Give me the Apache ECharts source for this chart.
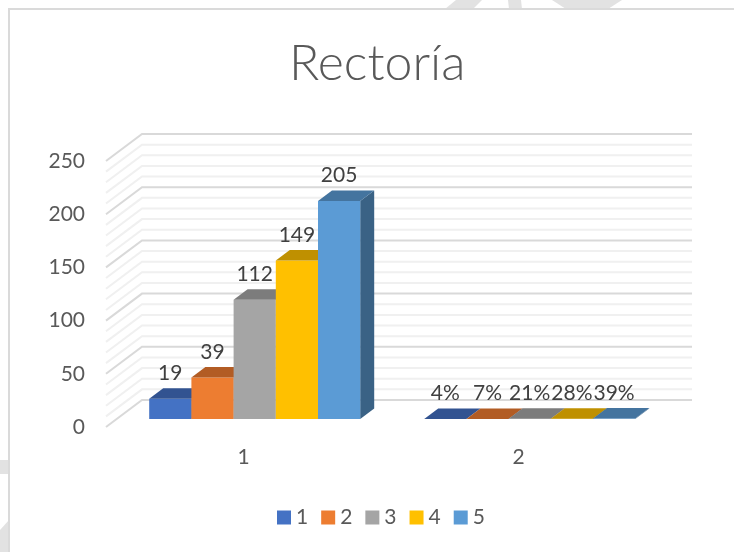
<!DOCTYPE html>
<html><head><meta charset="utf-8">
<style>html,body{margin:0;padding:0;background:#fff}#c{width:734px;height:552px}</style>
<script src="https://cdn.jsdelivr.net/npm/echarts@6/dist/echarts.min.js"></script>
</head><body><div id="c"></div>
<script>
const categories = ['1', '2'];
const seriesNames = ['1', '2', '3', '4', '5'];
const values1 = [19, 0.04];
const values2 = [39, 0.07];
const values3 = [112, 0.21];
const values4 = [149, 0.28];
const values5 = [205, 0.39];
const labels1 = ['19', '4%'];
const labels2 = ['39', '7%'];
const labels3 = ['112', '21%'];
const labels4 = ['149', '28%'];
const labels5 = ['205', '39%'];
const faceColors = ['#4472C4', '#ED7D31', '#A5A5A5', '#FFC000', '#5B9BD5'];
const topColors = ['#325391', '#B25C24', '#7C7C7C', '#BF9000', '#44749F'];
const sideColors = ['#2A4677', '#8F4A1C', '#636363', '#997300', '#3A6285'];
const minorGrid = [10,20,30,40,60,70,80,90,110,120,130,140,160,170,180,190,210,220,230,240];
const majorGrid = [0,50,100,150,200,250];

const FONT = 'Lato, "Noto Sans", sans-serif';
const allValues = [values1, values2, values3, values4, values5];
const allLabels = [labels1, labels2, labels3, labels4, labels5];

// Pseudo-3D geometry: floor depth offsets from the front plane
const WALL_DX = 36, WALL_DY = 27;
const BAR_FRONT_DX = 11.2, BAR_FRONT_DY = 8, BAR_DX = 14, BAR_DY = 10.5;
const BAR_W = 42.2;

function gridSeries(list, color, width, z) {
  return {
    type: 'custom', silent: true, z: z, legendHoverLink: false,
    data: list.map(v => [0, v]),
    encode: { x: 0, y: 1 },
    renderItem: function (params, api) {
      const y = api.coord([0, api.value(1)])[1];
      const x0 = params.coordSys.x, x1 = x0 + params.coordSys.width;
      return {
        type: 'polyline', silent: true,
        shape: { points: [[x0, y], [x0 + WALL_DX, y - WALL_DY], [x1 + WALL_DX, y - WALL_DY]] },
        style: { stroke: color, lineWidth: width, fill: null }
      };
    }
  };
}

function barSeries(i) {
  return {
    type: 'custom', name: seriesNames[i], z: 5 + i,
    itemStyle: { color: faceColors[i] },
    data: categories.map((c, k) => [k, allValues[i][k]]),
    encode: { x: 0, y: 1 },
    renderItem: function (params, api) {
      const k = api.value(0), v = api.value(1);
      const base = api.coord([k, 0]), top = api.coord([k, v]);
      const xl = base[0] - 2.5 * BAR_W + i * BAR_W + BAR_FRONT_DX;
      const xr = xl + BAR_W;
      const yb = base[1] - BAR_FRONT_DY, yt = top[1] - BAR_FRONT_DY;
      return {
        type: 'group',
        children: [
          { type: 'polygon', shape: { points: [[xr, yb], [xr + BAR_DX, yb - BAR_DY], [xr + BAR_DX, yt - BAR_DY], [xr, yt]] }, style: { fill: sideColors[i] } },
          { type: 'rect', shape: { x: xl, y: yt, width: BAR_W, height: yb - yt }, style: { fill: faceColors[i] } },
          { type: 'polygon', shape: { points: [[xl, yt], [xl + BAR_DX, yt - BAR_DY], [xr + BAR_DX, yt - BAR_DY], [xr, yt]] }, style: { fill: topColors[i] } },
          { type: 'text', z2: 50, style: { x: (xl + xr) / 2, y: yt - BAR_DY - 15, text: allLabels[i][k], fill: '#404040', font: '21px ' + FONT, align: 'center', verticalAlign: 'middle' } }
        ]
      };
    }
  };
}

const chart = echarts.init(document.getElementById('c'), null, { renderer: 'canvas' });
chart.setOption({
  animation: false,
  backgroundColor: '#fff',
  title: {
    text: 'Rectoría', left: 284, top: 34,
    textStyle: { fontFamily: FONT, fontWeight: 300, fontSize: 50, color: '#595959' }
  },
  legend: {
    data: seriesNames, left: 272, top: 502, icon: 'rect',
    itemWidth: 14, itemHeight: 14, itemGap: 13, selectedMode: false,
    textStyle: { fontFamily: FONT, fontSize: 21, color: '#595959', padding: [0, 0, 0, 0] }
  },
  grid: { left: 106, right: 78, top: 161, bottom: 125 },
  xAxis: {
    type: 'category', data: categories,
    axisLine: { show: false }, axisTick: { show: false }, splitLine: { show: false },
    axisLabel: { fontFamily: FONT, fontSize: 21, color: '#595959', margin: 20 }
  },
  yAxis: {
    type: 'value', min: 0, max: 250, interval: 50,
    axisLine: { show: false }, axisTick: { show: false }, splitLine: { show: false },
    axisLabel: { fontFamily: FONT, fontSize: 21, color: '#595959', margin: 21, padding: [5, 0, 0, 0] }
  },
  graphic: [
    { type: 'polygon', silent: true, z: 0, shape: { points: [[456, 0], [482, 0], [473, 9], [445, 9]] }, style: { fill: '#E2E2E2' } },
    { type: 'polygon', silent: true, z: 0, shape: { points: [[508, 0], [521, 0], [522, 9], [509, 9]] }, style: { fill: '#E2E2E2' } },
    { type: 'polygon', silent: true, z: 0, shape: { points: [[552, 0], [622, 0], [608, 9], [566, 9]] }, style: { fill: '#E2E2E2' } },
    { type: 'rect', silent: true, z: 0, shape: { x: 0, y: 460, width: 9, height: 14 }, style: { fill: '#E2E2E2' } },
    { type: 'polygon', silent: true, z: 0, shape: { points: [[0, 530], [9, 520], [9, 552], [0, 552]] }, style: { fill: '#E2E2E2' } },
    { type: 'rect', silent: true, z: 0, shape: { x: 9, y: 9, width: 740, height: 560 }, style: { fill: 'none', stroke: '#DADADA', lineWidth: 2 } }
  ],
  series: [
    gridSeries(minorGrid, '#F0F0F0', 2, 1),
    gridSeries(majorGrid, '#D9D9D9', 2, 2)
  ].concat(seriesNames.map((n, i) => barSeries(i)))
});
</script></body></html>
